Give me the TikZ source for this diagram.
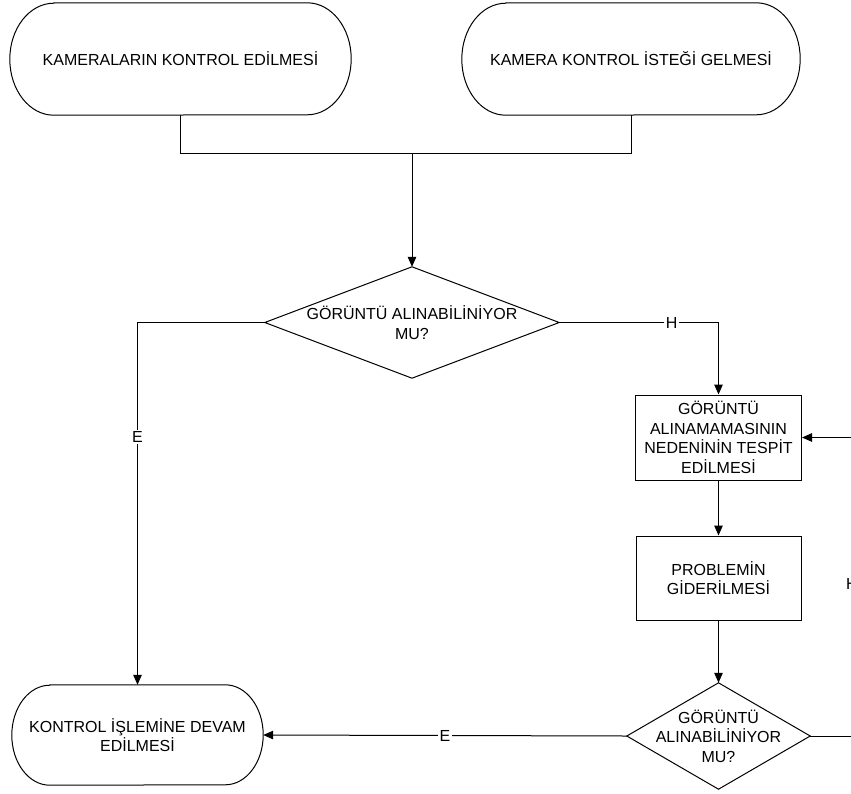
\documentclass[tikz,border=0pt]{standalone}
\usepackage{fontspec}
\setmainfont{Liberation Sans}
\usetikzlibrary{arrows.meta}
\begin{document}
\begin{tikzpicture}[x=1pt,y=-1pt,
  every node/.style={font=\fontsize{16}{19.5}\selectfont, align=center, inner sep=0pt},
  line/.style={line width=1pt, draw=black},
  arr/.style={line, -{Triangle[length=10pt,width=8.5pt]}},
  lbl/.style={fill=white, inner xsep=1.5pt, inner ysep=1pt},
]
\useasboundingbox (0,0) rectangle (851,793);
\clip (0,0) rectangle (851,793);
% terminators (text nodes, outlines drawn below)
\node[minimum width=341pt, minimum height=112pt] (t1) at (180.5,59) {KAMERALARIN KONTROL EDİLMESİ};
\node[minimum width=338pt, minimum height=112pt] (t2) at (631,59) {KAMERA KONTROL İSTEĞİ GELMESİ};
\node[minimum width=251pt, minimum height=100pt] (t3) at (137.5,735) {KONTROL İŞLEMİNE DEVAM\\EDİLMESİ};
\foreach \n/\rx/\ry in {t1/44/56, t2/44/56, t3/38/50}{
  \draw[line] ([xshift=\rx pt]\n.north west) -- ([xshift=-\rx pt]\n.north east)
    arc[start angle=90, end angle=-90, x radius=\rx pt, y radius=\ry pt]
    -- ([xshift=\rx pt]\n.south west)
    arc[start angle=270, end angle=90, x radius=\rx pt, y radius=\ry pt] -- cycle;
}
% decisions
\node[minimum width=294pt, minimum height=111pt] (d1) at (412,322.5) {GÖRÜNTÜ ALINABİLİNİYOR\\MU?};
\node[minimum width=183pt, minimum height=106pt] (d2) at (718.5,736) {GÖRÜNTÜ\\ALINABİLİNİYOR\\MU?};
\foreach \n in {d1,d2}{
  \draw[line] (\n.north) -- (\n.east) -- (\n.south) -- (\n.west) -- cycle;
}
% process boxes
\node[draw, line width=1pt, minimum width=166pt, minimum height=85pt] (b1) at (718.5,437.5) {GÖRÜNTÜ\\ALINAMAMASININ\\NEDENİNİN TESPİT\\EDİLMESİ};
\node[draw, line width=1pt, minimum width=165pt, minimum height=84pt] (b2) at (718.5,578) {PROBLEMİN\\GİDERİLMESİ};
% connectors
\coordinate (j) at (412,153);
\coordinate (r1) at (852,736);
\coordinate (r2) at (852,437.5);
\draw[line] (t1.south) |- (j);
\draw[line] (t2.south) |- (j);
\draw[arr] (j) -- (d1.north);
\draw[arr] (d1.east) -| node[lbl, pos=0.353] {H} (b1.north);
\draw[arr] (d1.west) -| node[lbl, pos=0.658] {E} (t3.north);
\draw[arr] (b1.south) -- (b2.north);
\draw[arr] (b2.south) -- (d2.north);
\draw[arr] (d2.west) -- node[lbl] {E} (t3.east);
\draw[arr] (d2.east) -- (r1) -- node[lbl, pos=0.51] {H} (r2) -- (b1.east);
\end{tikzpicture}
\end{document}
